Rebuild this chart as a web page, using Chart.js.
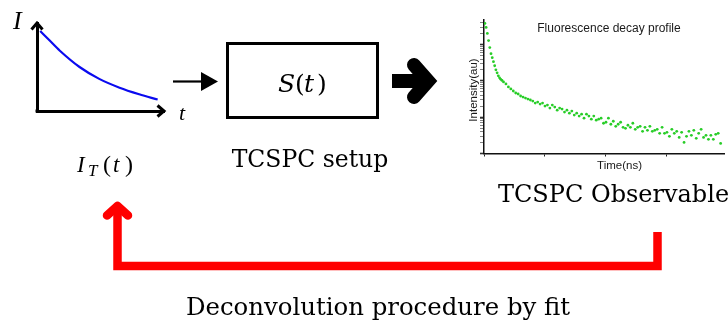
<!DOCTYPE html>
<html lang="en">
<head>
<meta charset="UTF-8">
<title>TCSPC deconvolution</title>
<script src="https://cdn.jsdelivr.net/npm/chart.js@4.4.0/dist/chart.umd.min.js"></script>
<style>
  html, body { margin: 0; padding: 0; background: #fff; }
  body { width: 728px; height: 322px; position: relative; overflow: hidden; }
  canvas, svg { position: absolute; }
  #decay { left: 0; top: 0; }
  #observed { left: 440px; top: 0; }
  #sketch { left: 0; top: 0; }
</style>
</head>
<body>
<canvas id="decay" width="200" height="140"></canvas>
<canvas id="observed" width="288" height="180"></canvas>

<svg id="sketch" width="728" height="322">
  <!-- labels of the ideal decay -->
  <g font-family="'Liberation Serif', serif" font-style="italic" fill="#000">
    <text x="13" y="29" font-size="26">I</text>
    <text x="179" y="120" font-size="22">t</text>
    <text y="172" font-size="23"><tspan x="77">I</tspan><tspan x="88" y="176" font-size="17">T</tspan><tspan x="103" y="172" font-style="normal" font-size="24">(</tspan><tspan x="113">t</tspan><tspan x="125" font-style="normal" font-size="24">)</tspan></text>
  </g>

  <!-- small arrow into the setup -->
  <line x1="173" y1="81.5" x2="203" y2="81.5" stroke="#000" stroke-width="2.2"/>
  <polygon points="201,72 218,81.5 201,91" fill="#000"/>

  <!-- setup box -->
  <rect x="227.5" y="43.5" width="150" height="74" fill="none" stroke="#000" stroke-width="3"/>
  <text y="92" font-family="'DejaVu Serif', serif" font-size="25" fill="#000"><tspan x="278" font-style="italic">S</tspan><tspan x="295">(</tspan><tspan x="304" font-style="italic">t</tspan><tspan x="317">)</tspan></text>

  <!-- heavy arrow -->
  <path d="M392 81 H424" stroke="#000" stroke-width="14"/>
  <polyline points="414,65 428,81 414,97" fill="none" stroke="#000" stroke-width="14" stroke-linecap="round" stroke-linejoin="miter"/>

  <!-- feedback arrow -->
  <g stroke="#ff0000" fill="none" stroke-width="8.5">
    <path d="M657.5 232 V266 H117.5 V210" stroke-linejoin="miter"/>
    <polyline points="107,215.5 117.5,206 128,215.5" stroke-linecap="round" stroke-linejoin="round"/>
  </g>

  <!-- captions -->
  <g font-family="'DejaVu Serif', serif" font-size="23.5" fill="#000">
    <text x="310" y="167" text-anchor="middle">TCSPC setup</text>
    <text x="498" y="202" font-size="24">TCSPC Observable</text>
    <text x="378" y="315" text-anchor="middle" font-size="24.4">Deconvolution procedure by fit</text>
  </g>

  <!-- observable plot texts -->
  <g font-family="'Liberation Sans', sans-serif" font-size="11.5" fill="#1a1a1a">
    <text x="609" y="31.5" text-anchor="middle" font-size="12">Fluorescence decay profile</text>
    <text transform="translate(476.5,90) rotate(-90)" text-anchor="middle">Intensity(au)</text>
    <text x="619.5" y="169" text-anchor="middle">Time(ns)</text>
  </g>
</svg>

<script>
// ideal decay sketch I_T(t), arbitrary units
const sketchT = [0.25, 1.0, 1.8, 3.35, 4.9, 6.5, 8.05, 9.5];
const sketchI = [9.1, 8.0, 6.85, 5.0, 3.65, 2.65, 1.9, 1.3];

// measured fluorescence decay (time in ns, intensity in au)
const timeNs = [
  0.15, 0.35, 0.55, 0.75, 0.95, 1.15, 1.35, 1.55, 1.75, 1.95, 2.15, 2.35, 2.55, 2.75, 2.95,
  3.2, 3.6, 4.0, 4.4, 4.8, 5.2, 5.6, 6.0, 6.4, 6.8, 7.2, 7.6, 8.0, 8.4, 8.8,
  9.2, 9.6, 10.0, 10.4, 10.8, 11.2, 11.6, 12.0, 12.4, 12.8, 13.2, 13.6, 14.0, 14.4, 14.8,
  15.2, 15.6, 16.0, 16.4, 16.8, 17.2, 17.6, 18.0, 18.4,
  18.8, 19.2, 19.6, 20.0, 20.4, 20.8, 21.2, 21.6, 22.0, 22.4, 22.8, 23.2, 23.6, 24.0, 24.4,
  24.8, 25.2, 25.6, 26.0, 26.4, 26.8, 27.2, 27.6, 28.0,
  28.4, 28.8, 29.2, 29.6, 30.0, 30.4, 30.8, 31.2, 31.6, 32.0, 32.4, 32.8, 33.2, 33.6, 34.0,
  34.4, 34.8, 35.2, 35.6, 36.0, 36.4, 36.8, 37.2, 37.6, 38.0, 38.4, 38.8
];
const counts = [
  3830, 2970, 2020, 1290, 826, 562, 435, 337, 261, 202, 167, 138, 121, 110, 103,
  93.8, 82.5, 68.1, 59.9, 52.7, 46.4, 43.5, 38.3, 35.9, 33.7, 31.6, 29.7, 27.8, 24.5, 26.1,
  23.0, 24.5, 20.2, 21.5, 17.8, 21.5, 19.0, 15.6, 17.8, 16.7, 13.8, 15.6, 12.9, 14.7, 11.4,
  12.9, 10.7, 12.1, 9.38, 12.1, 10.7, 8.80, 10.7, 8.25,
  8.80, 9.38, 6.81, 7.26, 9.38, 6.39, 7.74, 5.62, 6.39, 7.26, 5.27, 4.95, 5.99, 5.27, 6.81,
  4.64, 5.27, 5.62, 4.08, 5.27, 4.35, 5.62, 4.08, 4.35,
  4.64, 3.59, 5.27, 3.59, 3.83, 2.97, 4.64, 3.59, 4.08, 2.78, 3.83, 2.02, 2.97, 4.08, 3.16,
  4.35, 2.61, 3.59, 4.64, 2.78, 3.16, 2.45, 3.16, 2.45, 3.37, 3.59, 1.90
];
const timeTicks = [0, 10, 20, 30];
const timeMax = 39.35;
const countMin = 1, countMax = 4900;

const noLegend = { legend: { display: false }, tooltip: { enabled: false }, title: { display: false } };

// arrow heads on the sketch axes
const axisArrows = {
  id: 'axisArrows',
  afterDraw(chart) {
    const { ctx, chartArea: a } = chart;
    ctx.save();
    ctx.strokeStyle = '#000';
    ctx.lineWidth = 3;
    ctx.lineJoin = 'miter';
    ctx.beginPath();
    ctx.moveTo(a.left - 5.5, a.top + 6.5);
    ctx.lineTo(a.left, a.top);
    ctx.lineTo(a.left + 5.5, a.top + 6.5);
    ctx.moveTo(a.right - 6.5, a.bottom - 5.5);
    ctx.lineTo(a.right, a.bottom);
    ctx.lineTo(a.right - 6.5, a.bottom + 5.5);
    ctx.stroke();
    // square off the corner
    ctx.fillStyle = '#000';
    ctx.fillRect(a.left - 1.5, a.bottom - 1.5, 3, 3);
    ctx.restore();
  }
};

new Chart(document.getElementById('decay'), {
  type: 'scatter',
  data: {
    datasets: [{
      data: sketchT.map((t, i) => ({ x: t, y: sketchI[i] })),
      showLine: true,
      borderColor: '#0a0aef',
      borderWidth: 2.2,
      pointRadius: 0,
      cubicInterpolationMode: 'monotone'
    }]
  },
  options: {
    responsive: false,
    animation: false,
    events: [],
    layout: { padding: { left: 37, top: 23, right: 36, bottom: 29 } },
    plugins: noLegend,
    scales: {
      x: {
        type: 'linear', min: 0, max: 10,
        ticks: { display: false },
        grid: { display: false },
        border: { display: true, color: '#000', width: 3 },
        afterFit: s => { s.height = 0; }
      },
      y: {
        type: 'linear', min: 0, max: 10,
        ticks: { display: false },
        grid: { display: false },
        border: { display: true, color: '#000', width: 3 },
        afterFit: s => { s.width = 0; }
      }
    }
  },
  plugins: [axisArrows]
});

const isDecade = v => Math.abs(Math.log10(v) - Math.round(Math.log10(v))) < 1e-6;

new Chart(document.getElementById('observed'), {
  type: 'scatter',
  data: {
    datasets: [{
      data: timeNs.map((t, i) => ({ x: t, y: counts[i] })),
      pointRadius: 1.4,
      pointBorderWidth: 0,
      pointBackgroundColor: 'rgb(40,205,40)'
    }]
  },
  options: {
    responsive: false,
    animation: false,
    events: [],
    layout: { padding: { left: 44, top: 19.5, right: 0, bottom: 26.5 } },
    plugins: noLegend,
    scales: {
      x: {
        type: 'linear', min: 0, max: timeMax,
        ticks: { display: false },
        afterBuildTicks: s => { s.ticks = timeTicks.map(v => ({ value: v })); },
        grid: { display: true, drawOnChartArea: false, drawTicks: true, tickLength: 3, color: '#222', tickWidth: 1 },
        border: { display: true, color: '#111', width: 1.5 },
        afterFit: s => { s.height = 0; }
      },
      y: {
        type: 'logarithmic', min: countMin, max: countMax,
        ticks: { display: false },
        afterBuildTicks: s => {
          s.ticks = s.ticks.filter(t => {
            const m = t.value / Math.pow(10, Math.floor(Math.log10(t.value) + 1e-9));
            return t.value < countMax && Math.abs(m - Math.round(m)) < 1e-6;
          });
        },
        grid: {
          display: true, drawOnChartArea: false, drawTicks: true, tickLength: 4,
          color: '#333',
          tickWidth: c => (c.tick && isDecade(c.tick.value)) ? 1.6 : 0.6
        },
        border: { display: true, color: '#111', width: 1.5 },
        afterFit: s => { s.width = 0; }
      }
    }
  }
});
</script>
</body>
</html>
